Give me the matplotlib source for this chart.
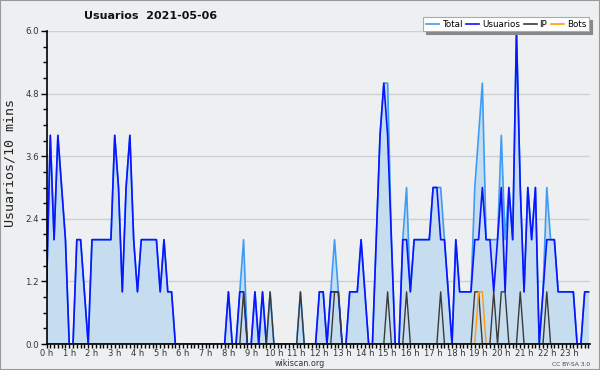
import matplotlib
matplotlib.use("Agg")
import matplotlib.pyplot as plt
from matplotlib.patches import Rectangle
from matplotlib.lines import Line2D
from matplotlib.ticker import MultipleLocator, FixedLocator
import numpy as np

# 10-minute slots, 144 per day
usuarios = [
    1, 4, 2, 4, 3, 2, 0, 0, 2, 2,
    1, 0, 2, 2, 2, 2, 2, 2, 4, 3,
    1, 3, 4, 2, 1, 2, 2, 2, 2, 2,
    1, 2, 1, 1, 0, 0, 0, 0, 0, 0,
    0, 0, 0, 0, 0, 0, 0, 0, 1, 0,
    0, 1, 1, 0, 0, 1, 0, 1, 0, 0,
    0, 0, 0, 0, 0, 0, 0, 0, 0, 0,
    0, 0, 1, 1, 0, 1, 1, 1, 0, 0,
    1, 1, 1, 2, 1, 0, 0, 2, 4, 5,
    4, 2, 0, 0, 2, 2, 1, 2, 2, 2,
    2, 2, 3, 3, 2, 2, 1, 0, 2, 1,
    1, 1, 1, 2, 2, 3, 2, 2, 1, 2,
    3, 1, 3, 2, 6, 3, 1, 3, 2, 3,
    0, 1, 2, 2, 2, 1, 1, 1, 1, 1,
    0, 0, 1, 1]

total = [
    1, 4, 2, 4, 3, 2, 0, 0, 2, 2,
    1, 0, 2, 2, 2, 2, 2, 2, 4, 3,
    1, 3, 4, 2, 1, 2, 2, 2, 2, 2,
    1, 2, 1, 1, 0, 0, 0, 0, 0, 0,
    0, 0, 0, 0, 0, 0, 0, 0, 1, 0,
    0, 1, 2, 0, 0, 1, 0, 1, 0, 1,
    0, 0, 0, 0, 0, 0, 0, 1, 0, 0,
    0, 0, 1, 1, 0, 1, 2, 1, 0, 0,
    1, 1, 1, 2, 1, 0, 0, 2, 4, 5,
    5, 2, 0, 0, 2, 3, 1, 2, 2, 2,
    2, 2, 3, 3, 3, 2, 1, 0, 2, 1,
    1, 1, 1, 3, 4, 5, 2, 2, 2, 2,
    4, 2, 3, 2, 6, 3, 1, 3, 2, 3,
    0, 1, 3, 2, 2, 1, 1, 1, 1, 1,
    0, 0, 1, 1]

ip = [
    0, 0, 0, 0, 0, 0, 0, 0, 0, 0,
    0, 0, 0, 0, 0, 0, 0, 0, 0, 0,
    0, 0, 0, 0, 0, 0, 0, 0, 0, 0,
    0, 0, 0, 0, 0, 0, 0, 0, 0, 0,
    0, 0, 0, 0, 0, 0, 0, 0, 0, 0,
    0, 0, 1, 0, 0, 0, 0, 0, 0, 1,
    0, 0, 0, 0, 0, 0, 0, 1, 0, 0,
    0, 0, 0, 0, 0, 0, 1, 1, 0, 0,
    0, 0, 0, 0, 0, 0, 0, 0, 0, 0,
    1, 0, 0, 0, 0, 1, 0, 0, 0, 0,
    0, 0, 0, 0, 1, 0, 0, 0, 0, 0,
    0, 0, 0, 1, 1, 0, 0, 0, 1, 0,
    1, 1, 0, 0, 0, 1, 0, 0, 0, 0,
    0, 0, 1, 0, 0, 0, 0, 0, 0, 0,
    0, 0, 0, 0]

bots = [
    0, 0, 0, 0, 0, 0, 0, 0, 0, 0,
    0, 0, 0, 0, 0, 0, 0, 0, 0, 0,
    0, 0, 0, 0, 0, 0, 0, 0, 0, 0,
    0, 0, 0, 0, 0, 0, 0, 0, 0, 0,
    0, 0, 0, 0, 0, 0, 0, 0, 0, 0,
    0, 0, 0, 0, 0, 0, 0, 0, 0, 0,
    0, 0, 0, 0, 0, 0, 0, 0, 0, 0,
    0, 0, 0, 0, 0, 0, 0, 0, 0, 0,
    0, 0, 0, 0, 0, 0, 0, 0, 0, 0,
    0, 0, 0, 0, 0, 0, 0, 0, 0, 0,
    0, 0, 0, 0, 0, 0, 0, 0, 0, 0,
    0, 0, 0, 0, 1, 1, 0, 0, 0, 0,
    0, 0, 0, 0, 0, 0, 0, 0, 0, 0,
    0, 0, 0, 0, 0, 0, 0, 0, 0, 0,
    0, 0, 0, 0]

hour_labels = [f"{h} h" for h in range(24)]
y_ticks = [0.0, 1.2, 2.4, 3.6, 4.8, 6.0]
title = "Usuarios  2021-05-06"
ylabel = "Usuarios/10 mins"

BG = "#eeeff1"
W, H = 600, 370
fig = plt.figure(figsize=(W / 100, H / 100), dpi=100, facecolor=BG)

ax_left, ax_right, ax_bottom, ax_top = 46.5, 590, 344, 31
ax = fig.add_axes([ax_left / W, (H - ax_bottom) / H,
                   (ax_right - ax_left) / W, (ax_bottom - ax_top) / H])
ax.set_facecolor(BG)

x = np.arange(len(usuarios))
ax.fill_between(x, total, 0, color="#c6ddf0", lw=0, zorder=1)
ax.plot(x, total, color="#3d9cf5", lw=1.2, zorder=3)
ax.plot(x, usuarios, color="#0a14ff", lw=1.2, zorder=4)
ax.plot(x, ip, color="#3a3a3a", lw=1.0, zorder=5)
ax.plot(x, bots, color="#ff9a10", lw=1.0, zorder=6)

ax.set_xlim(0, 143.4)
ax.set_ylim(0, 6.0)

ax.yaxis.set_major_locator(FixedLocator(y_ticks))
ax.set_yticklabels([f"{v:.1f}" for v in y_ticks])
ax.yaxis.set_minor_locator(MultipleLocator(0.3))
ax.xaxis.set_major_locator(FixedLocator(list(range(0, 144, 6))))
ax.set_xticklabels(hour_labels)
ax.xaxis.set_minor_locator(MultipleLocator(1))

ax.grid(axis="y", which="major", color="#cfd0d2", lw=1.0, zorder=0)
ax.set_axisbelow(True)
for s in ("top", "right"):
    ax.spines[s].set_visible(False)
for s in ("left", "bottom"):
    ax.spines[s].set_color("black")
    ax.spines[s].set_linewidth(1.2)
    ax.spines[s].set_zorder(7)

ax.tick_params(axis="y", which="major", length=4, width=1, color="black",
               labelsize=6.2, labelcolor="#333333", pad=1.5)
ax.tick_params(axis="x", which="major", length=3, width=1, color="black",
               labelsize=6.0, labelcolor="#333333", pad=0.5)
ax.tick_params(axis="both", which="minor", length=3, width=1, color="black")

fig.text(151 / W, 1 - 16 / H, title, ha="center", va="center",
         fontsize=8.0, fontweight="bold", color="#111111")
fig.text(10 / W, 1 - 163 / H, ylabel, ha="center", va="center", rotation=90,
         fontsize=9.6, family="DejaVu Sans Mono", color="#222222")
fig.text(300 / W, 1 - 363 / H, "wikiscan.org", ha="center", va="center",
         fontsize=5.8, color="#333333")
fig.text(590 / W, 1 - 364 / H, "CC BY-SA 3.0", ha="right", va="center",
         fontsize=4.3, color="#444444")

handles = [Line2D([], [], color="#3d9cf5", lw=1.2),
           Line2D([], [], color="#0a14ff", lw=1.2),
           Line2D([], [], color="#3a3a3a", lw=1.2),
           Line2D([], [], color="#ff9a10", lw=1.2)]
leg = fig.legend(handles, ["Total", "Usuarios", "IP", "Bots"], ncol=4,
                 loc="upper right", bbox_to_anchor=(589 / W, 1 - 17 / H),
                 fontsize=6.3, frameon=True, fancybox=False,
                 shadow={"color": "#888888", "alpha": 1.0},
                 handlelength=1.5, handletextpad=0.3, columnspacing=0.45,
                 borderpad=0.3, borderaxespad=0)
leg.get_frame().set_edgecolor("#aaaaaa")
leg.get_frame().set_facecolor("white")
leg.get_frame().set_linewidth(0.8)

fig.patches.append(Rectangle((0, 0), 1, 1, transform=fig.transFigure,
                             fill=False, edgecolor="#999999", lw=1.5))

fig.savefig("out.png", dpi=100, facecolor=BG)
